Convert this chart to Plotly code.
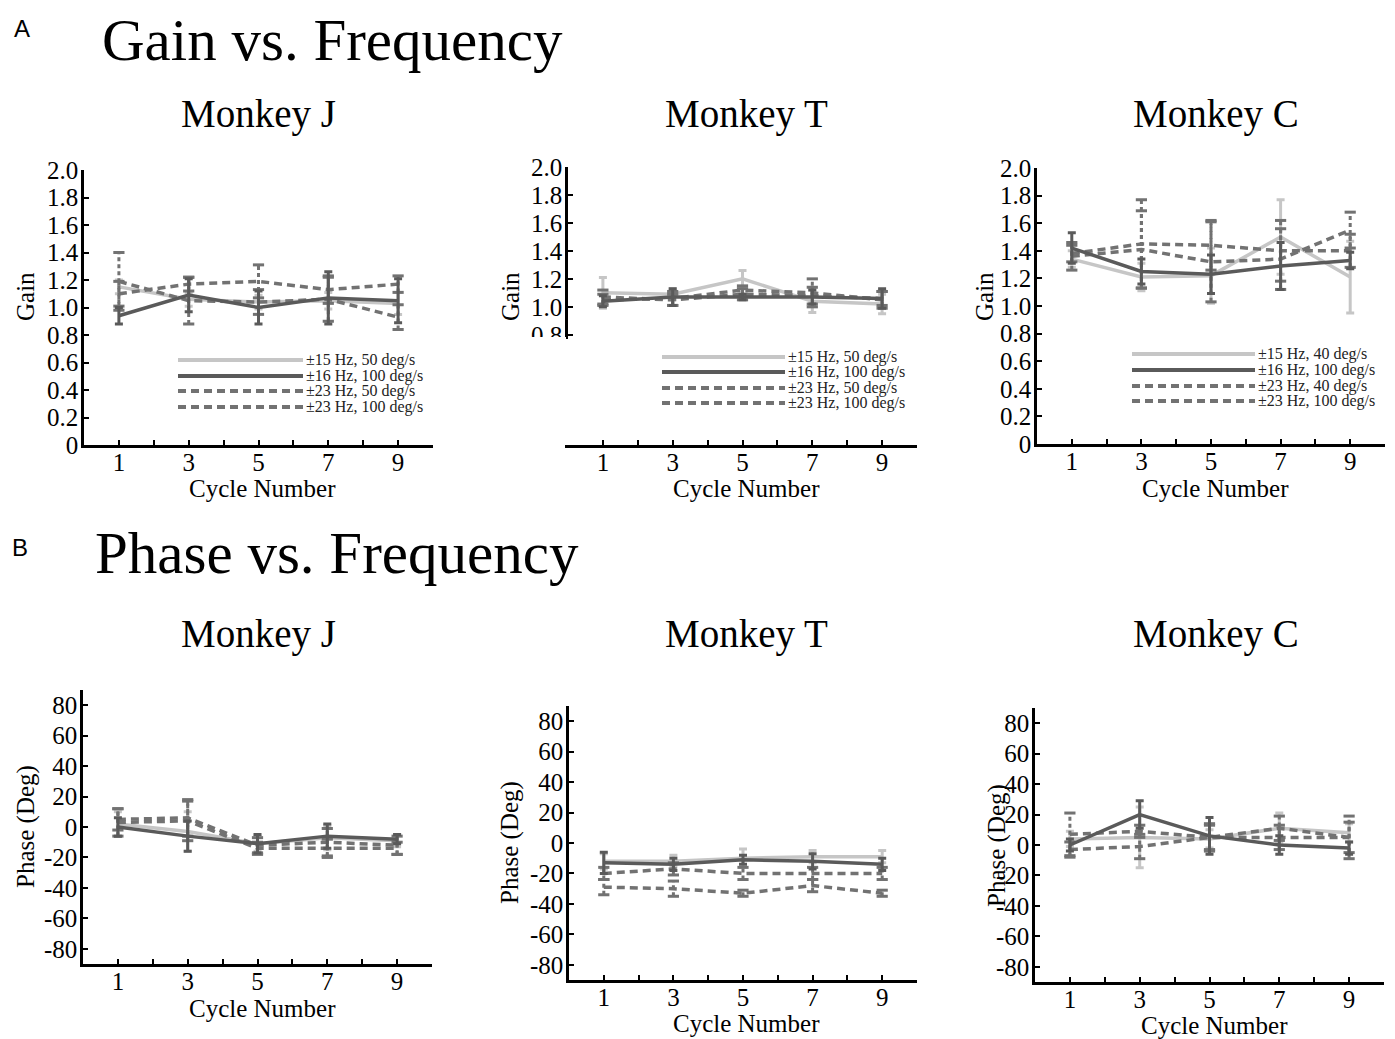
import plotly.graph_objects as go

W, H = 1395, 1039
OFF_X, OFF_Y = 8, 8  # page body margin offset of the figure div

# ---------------- data ----------------
cycles = [1, 3, 5, 7, 9]
x_tickvals = [1, 2, 3, 4, 5, 6, 7, 8, 9]
x_ticktext = ["1", "", "3", "", "5", "", "7", "", "9"]
gain_tickvals = [0, 0.2, 0.4, 0.6, 0.8, 1.0, 1.2, 1.4, 1.6, 1.8, 2.0]
gain_ticktext = ["0", "0.2", "0.4", "0.6", "0.8", "1.0", "1.2", "1.4", "1.6", "1.8", "2.0"]
phase_tickvals = [-80, -60, -40, -20, 0, 20, 40, 60, 80]
phase_ticktext = ["-80", "-60", "-40", "-20", "0", "20", "40", "60", "80"]

names_JT = ["±15 Hz, 50 deg/s", "±16 Hz, 100 deg/s", "±23 Hz, 50 deg/s", "±23 Hz, 100 deg/s"]
names_C = ["±15 Hz, 40 deg/s", "±16 Hz, 100 deg/s", "±23 Hz, 40 deg/s", "±23 Hz, 100 deg/s"]

# Gain, Monkey J
gain_J_15 = [1.15, 1.06, 1.04, 1.05, 1.03]
gain_J_15_err = [0.05, 0.05, 0.05, 0.06, 0.08]
gain_J_16 = [0.94, 1.09, 1.00, 1.07, 1.05]
gain_J_16_err = [0.06, 0.12, 0.12, 0.19, 0.16]
gain_J_23a = [1.10, 1.17, 1.19, 1.13, 1.17]
gain_J_23a_err = [0.09, 0.05, 0.12, 0.10, 0.06]
gain_J_23b = [1.19, 1.05, 1.04, 1.06, 0.93]
gain_J_23b_err = [0.21, 0.17, 0.09, 0.16, 0.09]

# Gain, Monkey T
gain_T_15 = [1.10, 1.09, 1.20, 1.04, 1.02]
gain_T_15_err = [0.11, 0.04, 0.06, 0.08, 0.07]
gain_T_16 = [1.04, 1.07, 1.07, 1.07, 1.06]
gain_T_16_err = [0.04, 0.06, 0.02, 0.05, 0.07]
gain_T_23a = [1.05, 1.06, 1.12, 1.10, 1.05]
gain_T_23a_err = [0.04, 0.05, 0.03, 0.10, 0.06]
gain_T_23b = [1.07, 1.05, 1.09, 1.08, 1.06]
gain_T_23b_err = [0.05, 0.04, 0.04, 0.06, 0.05]

# Gain, Monkey C
gain_C_15 = [1.34, 1.21, 1.22, 1.50, 1.21]
gain_C_15_err = [0.06, 0.10, 0.20, 0.27, 0.26]
gain_C_16 = [1.42, 1.25, 1.23, 1.29, 1.33]
gain_C_16_err = [0.11, 0.09, 0.14, 0.17, 0.06]
gain_C_23a = [1.38, 1.45, 1.44, 1.40, 1.40]
gain_C_23a_err = [0.06, 0.32, 0.18, 0.22, 0.12]
gain_C_23b = [1.36, 1.41, 1.32, 1.34, 1.55]
gain_C_23b_err = [0.10, 0.28, 0.29, 0.22, 0.13]

# Phase, Monkey J
phase_J_15 = [2, -3, -11, -7, -9]
phase_J_15_err = [8, 13, 5, 8, 4]
phase_J_16 = [0, -6, -11, -6, -8]
phase_J_16_err = [6, 10, 6, 8, 3]
phase_J_23a = [5, 6, -12, -10, -12]
phase_J_23a_err = [7, 12, 5, 9, 6]
phase_J_23b = [3, 4, -14, -14, -14]
phase_J_23b_err = [9, 13, 4, 6, 4]

# Phase, Monkey T
phase_T_15 = [-12, -12, -10, -9, -9]
phase_T_15_err = [5, 4, 6, 4, 4]
phase_T_16 = [-13, -14, -11, -12, -14]
phase_T_16_err = [7, 4, 3, 5, 4]
phase_T_23a = [-20, -17, -20, -20, -20]
phase_T_23a_err = [4, 4, 4, 4, 4]
phase_T_23b = [-29, -30, -33, -28, -33]
phase_T_23b_err = [5, 5, 2, 4, 2]

# Phase, Monkey C
phase_C_15 = [4, 5, 4, 11, 8]
phase_C_15_err = [5, 20, 6, 10, 6]
phase_C_16 = [0, 20, 6, 0, -2]
phase_C_16_err = [4, 9, 12, 6, 4]
phase_C_23a = [7, 9, 5, 5, 5]
phase_C_23a_err = [14, 4, 8, 8, 14]
phase_C_23b = [-3, -1, 5, 11, 5]
phase_C_23b_err = [5, 8, 9, 8, 10]

# ---------------- style ----------------
LIGHT = "#c6c6c6"
DARK = "#5a5a5a"
DASHC = "#727272"
styles = [
    dict(color=LIGHT, dash="solid"),
    dict(color=DASHC, dash="8px,5px"),
    dict(color=DASHC, dash="8px,5px"),
    dict(color=DARK, dash="solid"),
]
SERIF = "Liberation Serif"
SANS = "Liberation Sans"


def fx(px):
    return (px - OFF_X) / W


def fy(py):
    return 1 - (py - OFF_Y) / H


fig = go.Figure()


def add_panel(xa, ya, series):
    # series order: 15 (light), 23a, 23b (dashed), 16 (dark on top)
    for (y, e), st in zip(series, styles):
        if st["dash"] == "solid":
            fig.add_trace(go.Scatter(
                x=cycles, y=y, mode="lines", xaxis=xa, yaxis=ya,
                line=dict(color=st["color"], width=3.5),
                error_y=dict(type="data", array=e, color=st["color"], thickness=3, width=4),
                showlegend=False, hoverinfo="skip"))
        else:
            fig.add_trace(go.Scatter(
                x=cycles, y=y, mode="lines", xaxis=xa, yaxis=ya,
                line=dict(color=st["color"], width=3.5, dash=st["dash"]),
                showlegend=False, hoverinfo="skip"))
            ex, ey = [], []
            for xi, yi, ei in zip(cycles, y, e):
                ex += [xi, xi, None]
                ey += [yi - ei, yi + ei, None]
            fig.add_trace(go.Scatter(
                x=ex, y=ey, mode="lines", xaxis=xa, yaxis=ya,
                line=dict(color=st["color"], width=3, dash="4px,3px"),
                showlegend=False, hoverinfo="skip"))
            capx = cycles + cycles
            capy = [yi - ei for yi, ei in zip(y, e)] + [yi + ei for yi, ei in zip(y, e)]
            fig.add_trace(go.Scatter(
                x=capx, y=capy, mode="markers", xaxis=xa, yaxis=ya,
                marker=dict(symbol="line-ew", size=8, line=dict(color=st["color"], width=3)),
                showlegend=False, hoverinfo="skip"))


add_panel("x", "y", [(gain_J_15, gain_J_15_err), (gain_J_23a, gain_J_23a_err),
                     (gain_J_23b, gain_J_23b_err), (gain_J_16, gain_J_16_err)])
add_panel("x2", "y7", [(gain_T_15, gain_T_15_err), (gain_T_23a, gain_T_23a_err),
                       (gain_T_23b, gain_T_23b_err), (gain_T_16, gain_T_16_err)])
add_panel("x3", "y3", [(gain_C_15, gain_C_15_err), (gain_C_23a, gain_C_23a_err),
                       (gain_C_23b, gain_C_23b_err), (gain_C_16, gain_C_16_err)])
add_panel("x4", "y4", [(phase_J_15, phase_J_15_err), (phase_J_23a, phase_J_23a_err),
                       (phase_J_23b, phase_J_23b_err), (phase_J_16, phase_J_16_err)])
add_panel("x5", "y5", [(phase_T_15, phase_T_15_err), (phase_T_23a, phase_T_23a_err),
                       (phase_T_23b, phase_T_23b_err), (phase_T_16, phase_T_16_err)])
add_panel("x6", "y6", [(phase_C_15, phase_C_15_err), (phase_C_23a, phase_C_23a_err),
                       (phase_C_23b, phase_C_23b_err), (phase_C_16, phase_C_16_err)])

axis_common = dict(showline=True, linecolor="black", linewidth=2.5, ticks="inside",
                   ticklen=5, tickwidth=2, tickcolor="black", showgrid=False,
                   zeroline=False, tickfont=dict(family=SERIF, size=25, color="black"),
                   fixedrange=True, automargin=False)

xaxis_common = dict(axis_common, range=[0, 10], tickmode="array",
                    tickvals=x_tickvals, ticktext=x_ticktext, ticklabelstandoff=-7)
yaxis_extra = dict(ticklabelstandoff=-2)

# pixel geometry of panels: (x_left, x_right, y_top, y_bottom)
geo = {
    "1": (84, 433, 170, 445),
    "3": (1037, 1385, 168, 444),
    "4": (83, 432, 690, 964),
    "5": (569, 917, 706, 980),
    "6": (1035, 1384, 708, 982),
}
T_x = (568, 917)
T_upper = (167, 339)
T_lower = (349, 444)

lay = {}
for k, (x0, x1, y0, y1) in geo.items():
    xn = "xaxis" if k == "1" else "xaxis" + k
    yn = "yaxis" if k == "1" else "yaxis" + k
    an = "y" if k == "1" else "y" + k
    ax = "x" if k == "1" else "x" + k
    lay[xn] = dict(xaxis_common, domain=[fx(x0), fx(x1)], anchor=an)
    if k in ("1", "3"):
        lay[yn] = dict(axis_common, **yaxis_extra, domain=[fy(y1), fy(y0)], anchor=ax,
                       range=[0, 2.0], tickmode="array", tickvals=gain_tickvals,
                       ticktext=gain_ticktext)
    else:
        lay[yn] = dict(axis_common, **yaxis_extra, domain=[fy(y1), fy(y0)], anchor=ax,
                       range=[-90, 90], tickmode="array", tickvals=phase_tickvals,
                       ticktext=phase_ticktext)

# Monkey T gain: broken y axis
lay["xaxis2"] = dict(xaxis_common, domain=[fx(T_x[0]), fx(T_x[1])], anchor="y2")
lay["yaxis2"] = dict(axis_common, **yaxis_extra, domain=[fy(T_lower[1]), fy(T_lower[0])],
                     anchor="x2", range=[0, 0.68], tickmode="array",
                     tickvals=gain_tickvals, ticktext=gain_ticktext)
lay["yaxis7"] = dict(axis_common, **yaxis_extra, domain=[fy(T_upper[1]), fy(T_upper[0])],
                     anchor="x2", range=[0.77, 2.0], tickmode="array",
                     tickvals=gain_tickvals, ticktext=gain_ticktext)

annotations = []
shapes = []


def text(x, y, s, size, family=SERIF, xanchor="center", angle=0, color="black"):
    annotations.append(dict(x=fx(x), y=fy(y), xref="paper", yref="paper", text=s,
                            showarrow=False, xanchor=xanchor, yanchor="middle",
                            textangle=angle,
                            font=dict(family=family, size=size, color=color)))


# section labels & titles
text(22, 28, "A", 24, family=SANS)
text(100, 40, "Gain vs. Frequency", 59, xanchor="left")
text(20, 547, "B", 24, family=SANS)
text(93, 553, "Phase vs. Frequency", 59, xanchor="left")

for cx, s in [(258, "Monkey J"), (747, "Monkey T"), (1216, "Monkey C")]:
    text(cx, 114, s, 39)
    text(cx, 634, s, 39)

# axis titles
text(25, 297, "Gain", 25, angle=-90)
text(510, 297, "Gain", 25, angle=-90)
text(984, 297, "Gain", 25, angle=-90)
text(26, 827, "Phase (Deg)", 25, angle=-90)
text(510, 843, "Phase (Deg)", 25, angle=-90)
text(997, 846, "Phase (Deg)", 25, angle=-90)

text(262, 488, "Cycle Number", 25)
text(747, 488, "Cycle Number", 25)
text(1215, 488, "Cycle Number", 25)
text(262, 1008, "Cycle Number", 25)
text(747, 1023, "Cycle Number", 25)
text(1214, 1025, "Cycle Number", 25)

# manual legends (order: 15, 16, 23a, 23b)
leg_styles = [styles[0], styles[3], styles[1], styles[2]]
legends = [
    (178, 303, [360, 376, 391, 407], names_JT),
    (662, 785, [357, 372, 388, 403], names_JT),
    (1132, 1255, [354, 370, 386, 401], names_C),
]
for lx0, lx1, rows, names in legends:
    for ry, st, nm in zip(rows, leg_styles, names):
        shapes.append(dict(type="line", xref="paper", yref="paper",
                           x0=fx(lx0), x1=fx(lx1), y0=fy(ry), y1=fy(ry),
                           line=dict(color=st["color"], width=4, dash=st["dash"])))
        text(lx1 + 1, ry, nm, 16, xanchor="left", color="#222222")

# hide lower half of the clipped "0.8" label on the broken axis
shapes.append(dict(type="rect", xref="paper", yref="paper", layer="above",
                   x0=fx(520), x1=fx(566), y0=fy(349), y1=fy(337),
                   fillcolor="white", line=dict(width=0)))

fig.update_layout(
    width=W, height=H, margin=dict(l=0, r=0, t=0, b=0, autoexpand=False),
    paper_bgcolor="white", plot_bgcolor="white", showlegend=False,
    annotations=annotations, shapes=shapes, **lay)

fig.write_html("out.html")
